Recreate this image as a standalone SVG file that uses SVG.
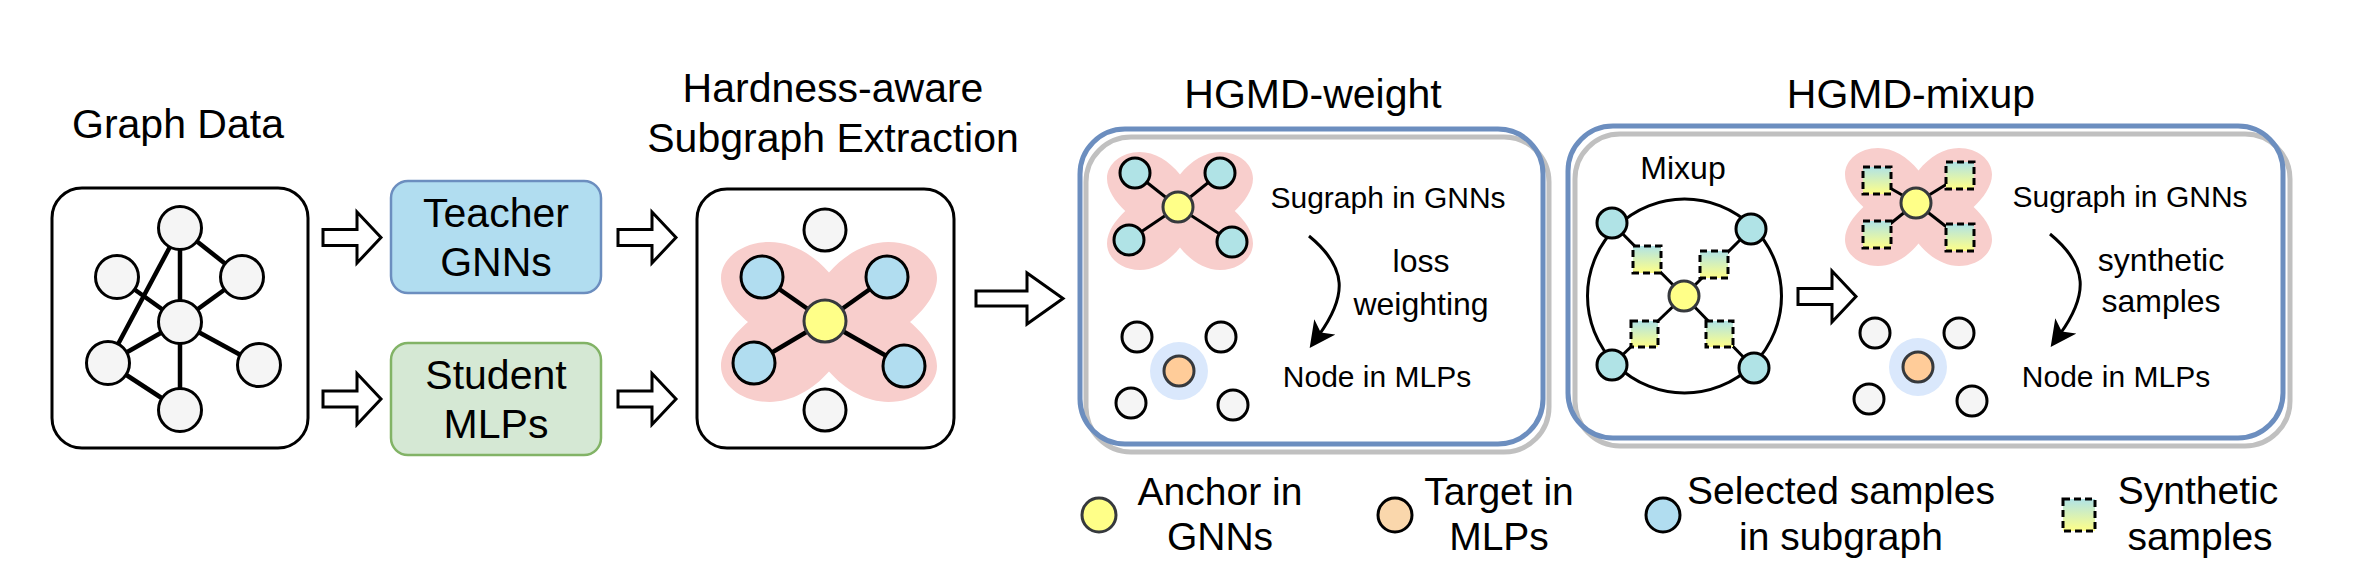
<svg xmlns="http://www.w3.org/2000/svg" xmlns:xlink="http://www.w3.org/1999/xlink" width="2360" height="587" viewBox="0 0 2360 587">
<defs>
<style>
text{font-family:"Liberation Sans",Arial,Helvetica,sans-serif;fill:#000;text-anchor:middle}
.ti{font-size:41px}
.in{font-size:30px}
.in2{font-size:32px}
.lg{font-size:39px}
.box{fill:#fff;stroke:#000;stroke-width:3}
.gn{fill:#f5f5f5;stroke:#000;stroke-width:3}
.bn{fill:#b1ddf0;stroke:#000;stroke-width:3}
.tn{fill:#b0e3e6;stroke:#000;stroke-width:3}
.yn{fill:#ffff88;stroke:#36393d;stroke-width:3}
.on{fill:#ffcc99;stroke:#36393d;stroke-width:3}
.halo{fill:#dae8fc}
.blob{fill:#f8cecc}
.e4{stroke:#000;stroke-width:4.5;fill:none}
.e3{stroke:#000;stroke-width:3;fill:none}
.sq{fill:url(#syn);stroke:#000;stroke-width:3;stroke-dasharray:7 4}
.blk{fill:#fff;stroke:#000;stroke-width:3;stroke-linejoin:miter}
.outer{fill:none;stroke:#6c8ebf;stroke-width:5}
.shadow{fill:#fff;stroke:#c0c0c0;stroke-width:5}
.curve{fill:none;stroke:#000;stroke-width:3;marker-end:url(#ah)}
</style>
<linearGradient id="syn" x1="0" y1="0" x2="0" y2="1">
<stop offset="0" stop-color="#b0e3e6"/>
<stop offset="1" stop-color="#ffff88"/>
</linearGradient>
<path id="blobshape" d="M0,-0.62 C-0.15,-0.85 -0.35,-1 -0.55,-1 C-0.8,-1 -1,-0.8 -1,-0.55 C-1,-0.35 -0.88,-0.15 -0.75,0 C-0.88,0.15 -1,0.35 -1,0.55 C-1,0.8 -0.8,1 -0.55,1 C-0.35,1 -0.15,0.85 0,0.62 C0.15,0.85 0.35,1 0.55,1 C0.8,1 1,0.8 1,0.55 C1,0.35 0.88,0.15 0.75,0 C0.88,-0.15 1,-0.35 1,-0.55 C1,-0.8 0.8,-1 0.55,-1 C0.35,-1 0.15,-0.85 0,-0.62 Z"/>
<path id="arrowS" d="M0,-8 H34 V-25.5 L58,0 L34,25.5 V8 H0 Z"/>
<path id="arrowL" d="M0,-7.5 H51 V-25.5 L87,0 L51,25.5 V7.5 H0 Z"/>
<marker id="ah" markerUnits="userSpaceOnUse" markerWidth="26" markerHeight="26" viewBox="0 0 26 26" refX="10" refY="13" orient="auto">
<path d="M0,0 L26,13 L0,26 L7,13 Z" fill="#000"/>
</marker>
</defs>

<g id="graph-data">
<text class="ti" x="178" y="138">Graph Data</text>
<rect class="box" x="52" y="188" width="256" height="260" rx="30"/>
<g class="e4">
<line x1="180" y1="228" x2="180" y2="322"/>
<line x1="180" y1="228" x2="242" y2="277"/>
<line x1="180" y1="228" x2="108" y2="363"/>
<line x1="117" y1="277" x2="180" y2="322"/>
<line x1="242" y1="277" x2="180" y2="322"/>
<line x1="180" y1="322" x2="108" y2="363"/>
<line x1="180" y1="322" x2="259" y2="365"/>
<line x1="180" y1="322" x2="180" y2="410"/>
<line x1="108" y1="363" x2="180" y2="410"/>
</g>
<circle class="gn" cx="180" cy="228" r="21.5"/>
<circle class="gn" cx="117" cy="277" r="21.5"/>
<circle class="gn" cx="242" cy="277" r="21.5"/>
<circle class="gn" cx="180" cy="322" r="21.5"/>
<circle class="gn" cx="108" cy="363" r="21.5"/>
<circle class="gn" cx="259" cy="365" r="21.5"/>
<circle class="gn" cx="180" cy="410" r="21.5"/>
</g>

<g id="teacher-gnns">
<rect x="391" y="181" width="210" height="112" rx="17" fill="#b1ddf0" stroke="#6c8ebf" stroke-width="2.5"/>
<text class="ti" x="496" y="227">Teacher</text>
<text class="ti" x="496" y="276">GNNs</text>
</g>

<g id="student-mlps">
<rect x="391" y="343" width="210" height="112" rx="17" fill="#d5e8d4" stroke="#82b366" stroke-width="2.5"/>
<text class="ti" x="496" y="389">Student</text>
<text class="ti" x="496" y="438">MLPs</text>
</g>

<g id="hardness-aware-subgraph">
<text class="ti" x="833" y="102">Hardness-aware</text>
<text class="ti" x="833" y="152">Subgraph Extraction</text>
<rect class="box" x="697" y="189" width="257" height="259" rx="30"/>
<use href="#blobshape" xlink:href="#blobshape" class="blob" transform="translate(829,322) scale(108,80)"/>
<g class="e4">
<line x1="825" y1="321" x2="762" y2="277"/>
<line x1="825" y1="321" x2="887" y2="277"/>
<line x1="825" y1="321" x2="754" y2="363"/>
<line x1="825" y1="321" x2="904" y2="366"/>
</g>
<circle class="gn" cx="825" cy="230" r="21"/>
<circle class="gn" cx="825" cy="410" r="21"/>
<circle class="bn" cx="762" cy="277" r="21"/>
<circle class="bn" cx="887" cy="277" r="21"/>
<circle class="bn" cx="754" cy="363" r="21"/>
<circle class="bn" cx="904" cy="366" r="21"/>
<circle class="yn" cx="825" cy="321" r="21"/>
</g>

<g id="hgmd-weight">
<text class="ti" x="1313" y="108">HGMD-weight</text>
<rect class="shadow" x="1086" y="137" width="463" height="315" rx="45"/>
<rect class="outer" x="1080" y="129" width="463" height="315" rx="45"/>
<use href="#blobshape" xlink:href="#blobshape" class="blob" transform="translate(1180,211) scale(73,59)"/>
<g class="e3">
<line x1="1178" y1="207" x2="1135" y2="173"/>
<line x1="1178" y1="207" x2="1220" y2="173"/>
<line x1="1178" y1="207" x2="1129" y2="240"/>
<line x1="1178" y1="207" x2="1232" y2="242"/>
</g>
<circle class="tn" cx="1135" cy="173" r="15"/>
<circle class="tn" cx="1220" cy="173" r="15"/>
<circle class="tn" cx="1129" cy="240" r="15"/>
<circle class="tn" cx="1232" cy="242" r="15"/>
<circle class="yn" cx="1178" cy="207" r="15"/>
<text class="in" x="1388" y="208">Sugraph in GNNs</text>
<text class="in2" x="1421" y="272">loss</text>
<text class="in2" x="1421" y="315">weighting</text>
<circle class="halo" cx="1179" cy="371" r="29"/>
<circle class="gn" cx="1137" cy="337" r="15"/>
<circle class="gn" cx="1221" cy="337" r="15"/>
<circle class="gn" cx="1131" cy="403" r="15"/>
<circle class="gn" cx="1233" cy="405" r="15"/>
<circle class="on" cx="1179" cy="371" r="15"/>
<text class="in" x="1377" y="387">Node in MLPs</text>
</g>

<g id="hgmd-mixup">
<text class="ti" x="1911" y="108">HGMD-mixup</text>
<rect class="shadow" x="1575" y="134" width="715" height="312" rx="45"/>
<rect class="outer" x="1568" y="126" width="715" height="312" rx="45"/>
<text class="in2" x="1683" y="179">Mixup</text>
<circle class="e3" cx="1684.5" cy="296" r="97"/>
<g class="e3">
<line x1="1684" y1="296" x2="1612" y2="223"/>
<line x1="1684" y1="296" x2="1751" y2="229"/>
<line x1="1684" y1="296" x2="1612" y2="365"/>
<line x1="1684" y1="296" x2="1754" y2="368"/>
</g>
<circle class="tn" cx="1612" cy="223" r="15"/>
<circle class="tn" cx="1751" cy="229" r="15"/>
<circle class="tn" cx="1612" cy="365" r="15"/>
<circle class="tn" cx="1754" cy="368" r="15"/>
<rect class="sq" x="1633" y="246" width="28" height="27"/>
<rect class="sq" x="1700" y="251" width="28" height="27"/>
<rect class="sq" x="1631" y="321" width="27" height="26"/>
<rect class="sq" x="1706" y="321" width="27" height="26"/>
<circle class="yn" cx="1684" cy="296" r="15"/>
<use href="#blobshape" xlink:href="#blobshape" class="blob" transform="translate(1918.5,207) scale(73.5,59)"/>
<g class="e3">
<line x1="1916" y1="203" x2="1877" y2="180.5"/>
<line x1="1916" y1="203" x2="1960" y2="176"/>
<line x1="1916" y1="203" x2="1877" y2="234.5"/>
<line x1="1916" y1="203" x2="1960" y2="237.5"/>
</g>
<rect class="sq" x="1863" y="167" width="28" height="27"/>
<rect class="sq" x="1946" y="162" width="28" height="27"/>
<rect class="sq" x="1863" y="221" width="28" height="27"/>
<rect class="sq" x="1946" y="224" width="28" height="27"/>
<circle class="yn" cx="1916" cy="203" r="15"/>
<text class="in" x="2130" y="207">Sugraph in GNNs</text>
<text class="in2" x="2161" y="271">synthetic</text>
<text class="in2" x="2161" y="312">samples</text>
<circle class="halo" cx="1918" cy="367" r="29"/>
<circle class="gn" cx="1875" cy="333" r="15"/>
<circle class="gn" cx="1959" cy="333" r="15"/>
<circle class="gn" cx="1869" cy="399" r="15"/>
<circle class="gn" cx="1972" cy="401" r="15"/>
<circle class="on" cx="1918" cy="367" r="15"/>
<text class="in" x="2116" y="387">Node in MLPs</text>
</g>

<g id="legend-anchor">
<circle cx="1099" cy="515" r="17" fill="#ffff88" stroke="#36393d" stroke-width="3"/>
<text class="lg" x="1220" y="505">Anchor in</text>
<text class="lg" x="1220" y="550">GNNs</text>
</g>
<g id="legend-target">
<circle cx="1395" cy="515" r="17" fill="#fad7ac" stroke="#000" stroke-width="3"/>
<text class="lg" x="1499" y="505">Target in</text>
<text class="lg" x="1499" y="550">MLPs</text>
</g>
<g id="legend-selected">
<circle cx="1663" cy="515" r="17" fill="#b1ddf0" stroke="#000" stroke-width="3"/>
<text class="lg" x="1841" y="504">Selected samples</text>
<text class="lg" x="1841" y="550">in subgraph</text>
</g>
<g id="legend-synthetic">
<rect class="sq" x="2063" y="499" width="32" height="32"/>
<text class="lg" x="2198" y="504">Synthetic</text>
<text class="lg" x="2200" y="550">samples</text>
</g>

<g id="connectors">
<use href="#arrowS" xlink:href="#arrowS" class="blk" transform="translate(323,237.5)"/>
<use href="#arrowS" xlink:href="#arrowS" class="blk" transform="translate(323,399)"/>
<use href="#arrowS" xlink:href="#arrowS" class="blk" transform="translate(618,237.5)"/>
<use href="#arrowS" xlink:href="#arrowS" class="blk" transform="translate(618,399)"/>
<use href="#arrowL" xlink:href="#arrowL" class="blk" transform="translate(976,298.5)"/>
<use href="#arrowS" xlink:href="#arrowS" class="blk" transform="translate(1798,296.5)"/>
<path class="curve" d="M1309,236 C1348,268 1347,296 1319,335"/>
<path class="curve" d="M2050,234 C2089,266 2088,295 2060,334"/>
</g>
</svg>
